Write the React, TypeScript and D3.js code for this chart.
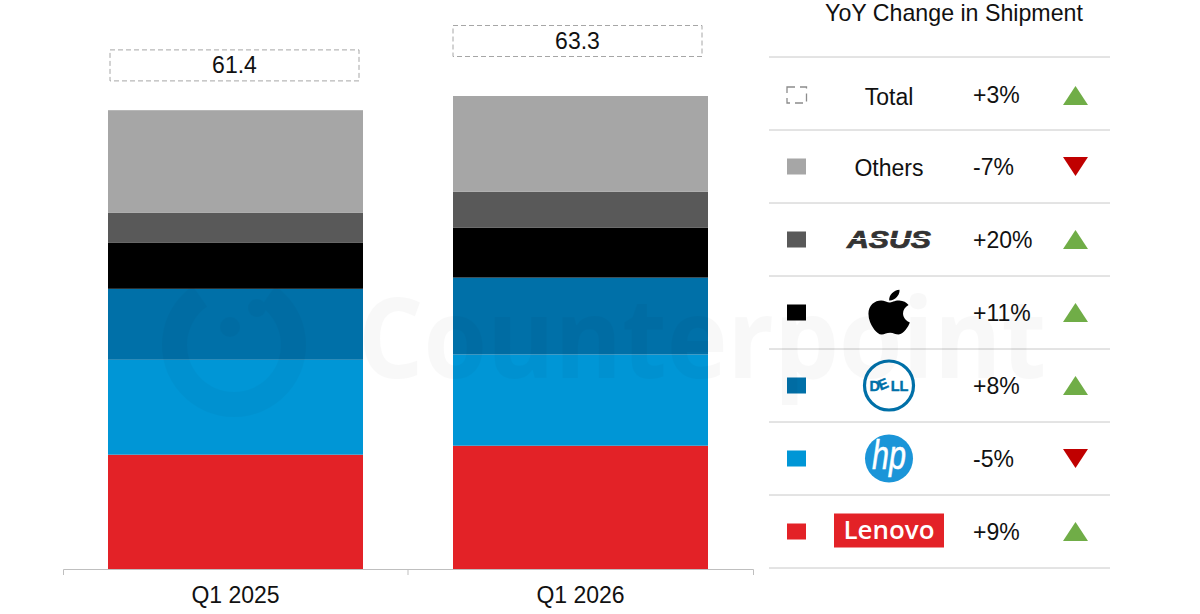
import { useEffect, useRef } from "react";
import * as d3 from "d3";

// shipments in million units, stacked bottom to top
const quarters = ["Q1 2025", "Q1 2026"];
const brands = ["Lenovo", "HP", "Dell", "Apple", "ASUS", "Others"];
const q12025 = [15.3, 12.7, 9.5, 6.2, 4.0, 13.7];
const q12026 = [16.5, 12.2, 10.3, 6.7, 4.8, 12.8];
const totals = [61.4, 63.3];
const brandColors = ["#e32227", "#0096d6", "#0070a8", "#000000", "#595959", "#a6a6a6"];

// right hand table, top to bottom
const tableRows = ["Total", "Others", "ASUS", "Apple", "Dell", "HP", "Lenovo"];
const yoyChange = [3, -7, 20, 11, 8, -5, 9];

const W = 1200;
const H = 614;
const FONT = "'Liberation Sans', Arial, sans-serif";

const applePath =
  "M318.7 268.7c-.2-36.7 16.4-64.4 50-84.8-18.8-26.9-47.2-41.7-84.7-44.6-35.5-2.8-74.3 20.7-88.5 20.7-15 0-49.4-19.7-76.4-19.7C63.3 141.2 4 184.8 4 273.5q0 39.3 14.4 81.2c12.8 36.7 59 126.7 107.2 125.2 25.2-.6 43-17.9 75.8-17.9 31.8 0 48.3 17.9 76.4 17.9 48.6-.7 90.4-82.5 102.6-119.3-65.2-30.7-61.7-90-61.7-91.9zm-56.6-164.2c27.3-32.4 24.8-61.9 24-72.5-24.1 1.4-52 16.4-67.9 34.9-17.5 19.8-27.8 44.3-25.6 71.9 26.1 2 49.9-11.4 69.5-34.3z";

export default function App() {
  const svgRef = useRef<SVGSVGElement | null>(null);

  useEffect(() => {
    if (!svgRef.current) return;
    const svg = d3.select(svgRef.current);
    svg.selectAll("*").remove();
    svg.style("font-family", FONT);

    const x = d3.scaleBand().domain(quarters).range([63, 753]);
    const y = d3.scaleLinear().domain([0, 63.3]).range([569, 96]);
    const barWidth = 255;
    const barX = (q: string) => (x(q) ?? 0) + (x.bandwidth() - barWidth) / 2;

    // stacked bars
    const rows = quarters.map((q, i) => {
      const row: any = { quarter: q };
      brands.forEach((b, j) => {
        row[b] = (i === 0 ? q12025 : q12026)[j];
      });
      return row;
    });
    const stacked = d3.stack().keys(brands)(rows);
    const color = d3.scaleOrdinal<string>().domain(brands).range(brandColors);

    svg
      .append("g")
      .selectAll("g")
      .data(stacked)
      .join("g")
      .attr("fill", (s) => color(s.key))
      .selectAll("rect")
      .data((s) => s)
      .join("rect")
      .attr("x", (d: any) => barX(d.data.quarter))
      .attr("y", (d) => y(d[1]))
      .attr("width", barWidth)
      .attr("height", (d) => y(d[0]) - y(d[1]));

    // axis
    const axis = svg
      .append("g")
      .attr("transform", "translate(0,569)")
      .call(d3.axisBottom(x).tickSizeInner(0).tickSizeOuter(6).tickPadding(18));
    axis.select(".domain").attr("stroke", "#bfbfbf");
    axis
      .selectAll("text")
      .attr("font-family", FONT)
      .attr("font-size", 23)
      .attr("fill", "#111");
    axis
      .append("line")
      .attr("x1", x(quarters[1]) ?? 0)
      .attr("x2", x(quarters[1]) ?? 0)
      .attr("y1", 0)
      .attr("y2", 6)
      .attr("stroke", "#bfbfbf");

    // total boxes above the bars
    const boxGap = [29.3, 39.5];
    const boxShift = [-1, -3];
    quarters.forEach((q, i) => {
      const cx = barX(q) + barWidth / 2 + boxShift[i];
      const bottom = y(totals[i]) - boxGap[i];
      svg
        .append("rect")
        .attr("x", cx - 124.5)
        .attr("y", bottom - 31)
        .attr("width", 249)
        .attr("height", 31)
        .attr("fill", "#fff")
        .attr("stroke", "#a6a6a6")
        .attr("stroke-dasharray", "5 3");
      svg
        .append("text")
        .attr("x", cx)
        .attr("y", bottom - 7.5)
        .attr("text-anchor", "middle")
        .attr("font-size", 23)
        .attr("fill", "#111")
        .text(totals[i].toFixed(1));
    });

    // table
    svg
      .append("text")
      .attr("x", 954)
      .attr("y", 21)
      .attr("text-anchor", "middle")
      .attr("font-size", 23.2)
      .attr("fill", "#111")
      .text("YoY Change in Shipment");

    const rowY = d3.scaleBand().domain(tableRows).range([57, 568]);
    const lines = [57, ...tableRows.map((r) => (rowY(r) ?? 0) + rowY.bandwidth())];
    svg
      .append("g")
      .selectAll("line")
      .data(lines)
      .join("line")
      .attr("x1", 769)
      .attr("x2", 1110)
      .attr("y1", (d) => d)
      .attr("y2", (d) => d)
      .attr("stroke", "#c8c8c8");

    tableRows.forEach((name, i) => {
      const cy = (rowY(name) ?? 0) + rowY.bandwidth() / 2;
      const row = svg.append("g");
      const rowShift = name === "Total" ? 2 : 0;

      // swatch
      if (name === "Total") {
        row
          .append("rect")
          .attr("x", 787)
          .attr("y", cy - 6.5)
          .attr("width", 19.5)
          .attr("height", 16)
          .attr("fill", "none")
          .attr("stroke", "#8c8c8c")
          .attr("stroke-width", 1.3)
          .attr("stroke-dasharray", "8 5");
      } else {
        row
          .append("rect")
          .attr("x", 787)
          .attr("y", cy - 8)
          .attr("width", 19)
          .attr("height", 16)
          .attr("fill", color(name));
      }

      // name or logo
      const logo = row.append("g").attr("transform", `translate(889,${cy})`);
      if (name === "Total" || name === "Others") {
        logo
          .append("text")
          .attr("y", name === "Total" ? 11 : 9.5)
          .attr("text-anchor", "middle")
          .attr("font-size", 23)
          .attr("fill", "#111")
          .text(name);
      } else if (name === "ASUS") {
        logo
          .append("text")
          .attr("y", 8)
          .attr("text-anchor", "middle")
          .attr("font-size", 23)
          .attr("font-weight", 700)
          .attr("font-style", "italic")
          .attr("textLength", 84)
          .attr("lengthAdjust", "spacingAndGlyphs")
          .attr("fill", "#333")
          .attr("stroke", "#333")
          .attr("stroke-width", 0.7)
          .text("ASUS");
        logo
          .append("line")
          .attr("x1", -44)
          .attr("x2", 44)
          .attr("y1", -1)
          .attr("y2", -1)
          .attr("stroke", "#fff")
          .attr("stroke-width", 1);
      } else if (name === "Apple") {
        logo
          .append("path")
          .attr("transform", "translate(-21,-26) scale(0.11,0.1)")
          .attr("d", applePath)
          .attr("fill", "#000");
      } else if (name === "Dell") {
        logo
          .append("circle")
          .attr("r", 24.5)
          .attr("fill", "#fff")
          .attr("stroke", color("Dell"))
          .attr("stroke-width", 3.2);
        logo
          .append("text")
          .attr("y", 5)
          .attr("text-anchor", "middle")
          .attr("font-size", 14.5)
          .attr("font-weight", 700)
          .attr("fill", color("Dell"))
          .attr("stroke", color("Dell"))
          .attr("stroke-width", 0.4)
          .attr("rotate", "0 -22 0 0")
          .attr("dx", "0 0.5 0.5 0")
          .text("DELL");
      } else if (name === "HP") {
        logo.append("circle").attr("r", 24).attr("fill", "#1b95d8");
        logo
          .append("text")
          .attr("y", 10)
          .attr("text-anchor", "middle")
          .attr("font-size", 40)
          .attr("font-style", "italic")
          .attr("textLength", 34)
          .attr("lengthAdjust", "spacingAndGlyphs")
          .attr("fill", "#fff")
          .attr("stroke", "#fff")
          .attr("stroke-width", 0.5)
          .text("hp");
      } else {
        logo
          .append("rect")
          .attr("x", -55)
          .attr("y", -18)
          .attr("width", 110)
          .attr("height", 34)
          .attr("fill", color("Lenovo"));
        logo
          .append("text")
          .attr("y", 7)
          .attr("text-anchor", "middle")
          .attr("font-family", "'Open Sans', sans-serif")
          .attr("font-size", 25.5)
          .attr("font-weight", 600)
          .attr("textLength", 91)
          .attr("lengthAdjust", "spacingAndGlyphs")
          .attr("fill", "#fff")
          .text("Lenovo");
      }

      // change and arrow
      const v = yoyChange[i];
      row
        .append("text")
        .attr("x", 973)
        .attr("y", cy + 8 + rowShift / 2)
        .attr("font-size", 23)
        .attr("fill", "#111")
        .text(`${v > 0 ? "+" : ""}${v}%`);
      const tri = v > 0 ? "M-12.5,9.5L12.5,9.5L0,-9.5Z" : "M-12.5,-9.5L12.5,-9.5L0,9.5Z";
      row
        .append("path")
        .attr("transform", `translate(1075.5,${cy + rowShift})`)
        .attr("d", tri)
        .attr("fill", v > 0 ? "#70ad47" : "#c00000");
    });

    // watermark over everything
    const mark = svg.append("g").attr("fill", "#000").attr("opacity", 0.025).attr("pointer-events", "none");
    const ring = d3.arc()({
      innerRadius: 47,
      outerRadius: 72,
      startAngle: (35 * Math.PI) / 180,
      endAngle: (325 * Math.PI) / 180,
    });
    mark.append("path").attr("transform", "translate(234,345)").attr("d", ring ?? "");
    mark.append("circle").attr("cx", 230).attr("cy", 327).attr("r", 10);
    mark.append("circle").attr("cx", 257).attr("cy", 308).attr("r", 9);
    mark
      .append("text")
      .attr("x", 358)
      .attr("y", 378)
      .attr("font-family", "'Open Sans', sans-serif")
      .attr("font-weight", 700)
      .attr("font-size", 112)
      .attr("textLength", 688)
      .attr("lengthAdjust", "spacingAndGlyphs")
      .text("Counterpoint");
  }, []);

  return (
    <svg
      ref={svgRef}
      width={W}
      height={H}
      viewBox={`0 0 ${W} ${H}`}
      style={{ position: "absolute", left: 0, top: 0, display: "block", background: "#fff" }}
    />
  );
}
